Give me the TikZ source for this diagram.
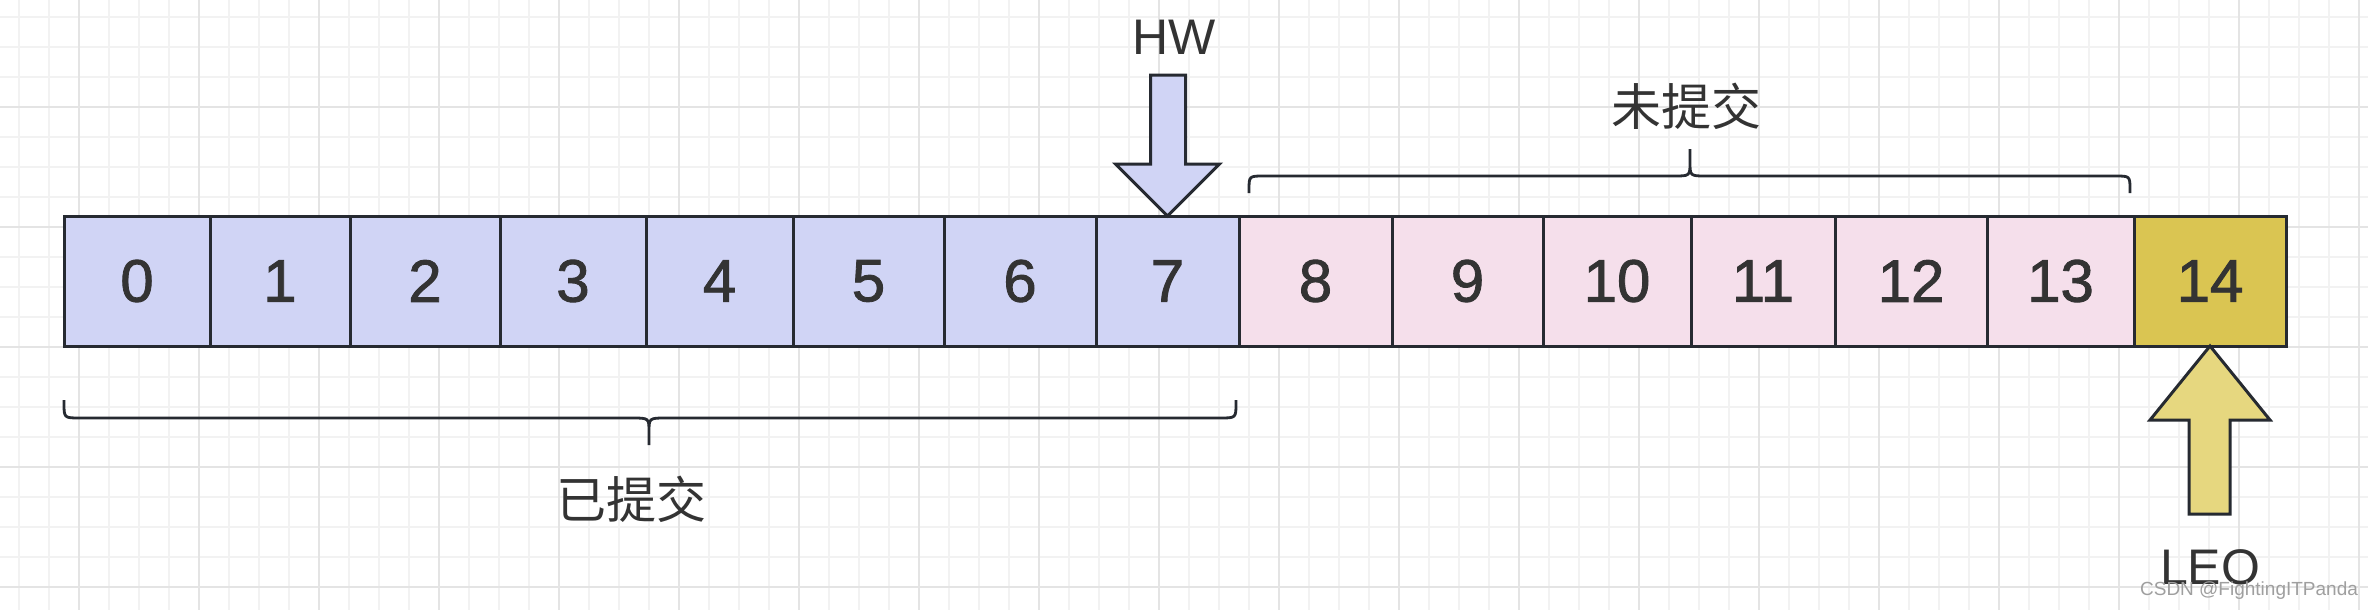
\documentclass[tikz,border=0pt]{standalone}
\usepackage{fontspec}
\setmainfont{Liberation Sans}
\newfontfamily\cellfont{Liberation Sans}[FakeBold=1.4]
\newfontfamily\cjk{Noto Sans CJK SC}
\usepackage{tikz}
\usetikzlibrary{positioning}
\definecolor{inkDark}{HTML}{262A31}
\definecolor{textDark}{HTML}{333333}
\definecolor{cellBlue}{HTML}{D0D4F5}
\definecolor{cellPink}{HTML}{F5DFEB}
\definecolor{cellGold}{HTML}{DAC552}
\definecolor{arrowGold}{HTML}{E6D77F}
\definecolor{gridMinor}{HTML}{F2F2F2}
\definecolor{gridMajor}{HTML}{E4E4E4}

\begin{document}
\begin{tikzpicture}[
  x=1pt,y=-1pt,
  cell/.style={draw=inkDark,line width=3pt,minimum height=130pt,inner sep=0pt,outer sep=0pt,text=textDark,font=\cellfont\fontsize{60}{70}\selectfont},
  committed/.style={cell,fill=cellBlue},
  uncommitted/.style={cell,fill=cellPink},
  leocell/.style={cell,fill=cellGold},
  blockarrow/.style={draw=inkDark,line width=3pt,line join=miter},
  brace/.style={draw=inkDark,line width=2.8pt},
  label/.style={text=textDark,inner sep=0pt,font=\fontsize{50}{60}\selectfont},
  cjklabel/.style={text=textDark,inner sep=0pt,font=\cjk\fontsize{50}{60}\selectfont}
]
% background and grid
\fill[white] (0,0) rectangle (2368,610);
\useasboundingbox (0,0) rectangle (2368,610);
\foreach \gx in {19,49,...,2368} \draw[gridMinor,line width=1.5pt] (\gx,0) -- (\gx,610);
\foreach \gy in {17,47,...,610} \draw[gridMinor,line width=1.5pt] (0,\gy) -- (2368,\gy);
\foreach \gx in {79,199,...,2368} \draw[gridMajor,line width=2pt] (\gx,0) -- (\gx,610);
\foreach \gy in {107,227,...,610} \draw[gridMajor,line width=2pt] (0,\gy) -- (2368,\gy);

% log cells
\foreach \i/\l/\r/\kind in {0/64/210/committed,1/210/350/committed,2/350/500/committed,
  3/500/646/committed,4/646/793/committed,5/793/944/committed,6/944/1096/committed,
  7/1096/1239/committed,8/1239/1392/uncommitted,9/1392/1543/uncommitted,
  10/1543/1691/uncommitted,11/1691/1835/uncommitted,12/1835/1987/uncommitted,
  13/1987/2134/uncommitted,14/2134/2286/leocell}
  \node[\kind,minimum width={\r-\l}] (b\i) at ({(\l+\r)/2},281) {\i};

% HW pointer
\draw[blockarrow,fill=cellBlue] (b7.north) -- +(-52,-52) -- +(-17,-52) -- +(-17,-141)
  -- +(18,-141) -- +(18,-52) -- +(52,-52) -- cycle;
\node[label] (hw) at (1174,37) {HW};

% LEO pointer
\draw[blockarrow,fill=arrowGold] (b14.south) -- +(-60,74) -- +(-21,74) -- +(-21,168)
  -- +(20,168) -- +(20,74) -- +(60,74) -- cycle;
\node[label] (leo) at (2210,567) {LEO};

% braces
\draw[brace] (1249,193) -- (1249,190) .. controls (1249,176) .. (1264,176) -- (1674,176)
  .. controls (1690,176) .. (1690,162) -- (1690,149) -- (1690,162)
  .. controls (1690,176) .. (1706,176) -- (2115,176) .. controls (2130,176) .. (2130,190) -- (2130,193);
\node[cjklabel] (pending) at (1686,106) {未提交};

\draw[brace] (64,400) -- (64,403) .. controls (64,418) .. (80,418) -- (632,418)
  .. controls (649,418) .. (649,432) -- (649,445) -- (649,432)
  .. controls (649,418) .. (666,418) -- (1220,418) .. controls (1236,418) .. (1236,403) -- (1236,400);
\node[cjklabel] (done) at (631,499) {已提交};

\node[text=gray!75,inner sep=0pt,font=\fontsize{19}{22}\selectfont] (mark) at (2249,591) {CSDN @FightingITPanda};
\end{tikzpicture}
\end{document}
